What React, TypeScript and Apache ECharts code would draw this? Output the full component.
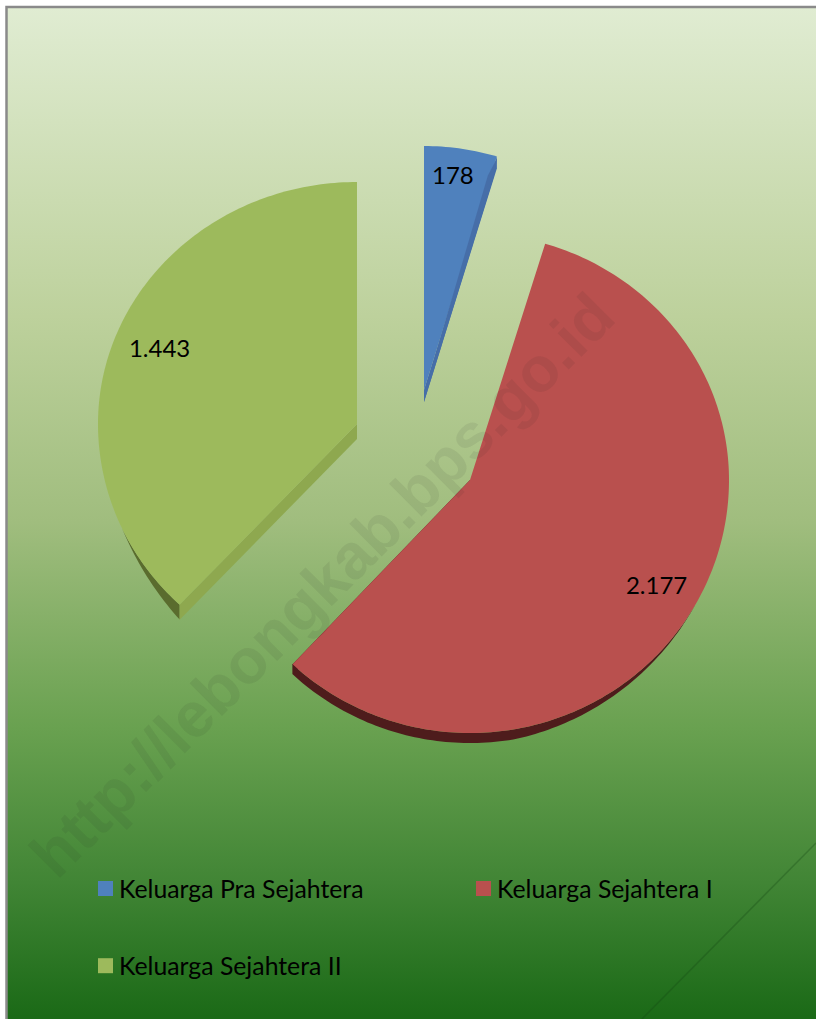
import React, { useEffect, useRef } from "react";
import * as echarts from "echarts";

const categories = ["Keluarga Pra Sejahtera", "Keluarga Sejahtera I", "Keluarga Sejahtera II"];
const values = [178, 2177, 1443];
const watermark = "http://lebongkab.bps.go.id";

const topColors = ["#4f81bd", "#b9504e", "#9dba5c"];
const wallColors = ["#4a6fa8", "#4e1c1c", "#5a6c2e"];
const cutWallColors = ["#466ea8", "#4e1c1c", "#8ea84f"];
const apexX = [424, 470, 357];
const apexY = [390, 480, 424];
const radiusX = [251, 259, 259];
const radiusTop = [244, 247, 242];
const radiusBottom = [250, 253, 248];
const depth = [12, 10, 15];
const wallZeroAngle = [100, 120, 245];
const wallFullAngle = [200, 170, 223];
const labelRatio = [0.88, 0.83, 0.82];
const labelDx = [-3.5, 0.5, 0];
const labelDy = [-3, -1, -3];

const FONT = "Lato";
const total = values.reduce((a, b) => a + b, 0);
const formatValue = (v: number) => String(v).replace(/\B(?=(\d{3})+$)/g, ".");

function edgePoint(i: number, deg: number, ratio = 1): number[] {
  const t = (deg * Math.PI) / 180;
  const c = Math.cos(t);
  const ry = c >= 0 ? radiusTop[i] : radiusBottom[i];
  return [apexX[i] + ratio * radiusX[i] * Math.sin(t), apexY[i] - ratio * ry * c];
}

function slicePoints(i: number, from: number, to: number): number[][] {
  const pts: number[][] = [[apexX[i], apexY[i]]];
  const n = Math.ceil(to - from);
  for (let k = 0; k <= n; k++) pts.push(edgePoint(i, from + ((to - from) * k) / n));
  return pts;
}

function wallPoints(i: number, from: number, to: number): number[][] {
  const n = Math.ceil(to - from);
  const upper: number[][] = [];
  const lower: number[][] = [];
  for (let k = 0; k <= n; k++) {
    const a = from + ((to - from) * k) / n;
    const p = edgePoint(i, a);
    const f = Math.min(1, Math.max(0, (a - wallZeroAngle[i]) / (wallFullAngle[i] - wallZeroAngle[i])));
    upper.push(p);
    lower.push([p[0], p[1] + depth[i] * f]);
  }
  return upper.concat(lower.reverse());
}

function makeSeries(i: number) {
  const before = values.slice(0, i).reduce((a, b) => a + b, 0);
  return {
    type: "custom",
    name: categories[i],
    coordinateSystem: "none",
    z: 3,
    itemStyle: { color: topColors[i] },
    data: [[values[i], before]],
    renderItem: (_p: any, api: any) => {
      const from = (api.value(1) / total) * 360;
      const to = ((api.value(1) + api.value(0)) / total) * 360;
      const mid = (from + to) / 2;
      const d = depth[i];
      const end = i === 2 ? edgePoint(i, from) : edgePoint(i, to);
      const labelPos = edgePoint(i, mid, labelRatio[i]);
      const children: any[] = [
        { type: "polygon", shape: { points: wallPoints(i, from, to) }, style: { fill: wallColors[i] } },
        {
          type: "polygon",
          shape: {
            points: [
              [apexX[i], apexY[i]],
              end,
              [end[0], end[1] + d],
              [apexX[i], apexY[i] + d],
            ],
          },
          style: { fill: cutWallColors[i] },
        },
        { type: "polygon", shape: { points: slicePoints(i, from, to) }, style: { fill: topColors[i] } },
      ];
      if (i === 0) {
        children.push({
          type: "polygon",
          shape: {
            points: [
              [end[0], end[1] + 2],
              [end[0] - 9, end[1] + 19],
              [apexX[i], apexY[i] + 4],
              [apexX[i], apexY[i] + d],
              [end[0] - 3, end[1] + 20],
            ],
          },
          style: { fill: cutWallColors[i] },
        });
      }
      children.push({
        type: "text",
        x: labelPos[0] + labelDx[i],
        y: labelPos[1] + labelDy[i],
        style: {
          text: formatValue(api.value(0)),
          fill: "#000",
          fontFamily: FONT,
          fontSize: 24,
          align: "center",
          verticalAlign: "middle",
        },
      });
      return { type: "group", children };
    },
  };
}

const legendBase = {
  orient: "vertical",
  icon: "rect",
  itemWidth: 15,
  itemHeight: 15,
  itemGap: 52.2,
  textStyle: { color: "#000", fontFamily: FONT, fontSize: 24.8, padding: [0, 0, 0, 1] },
  selectedMode: false,
  padding: 0,
};

export default function App() {
  const ref = useRef<HTMLDivElement>(null);
  useEffect(() => {
    document.body.style.margin = "0";
    const chart = echarts.init(ref.current!, null, { renderer: "svg" });
    chart.setOption({
      animation: false,
      backgroundColor: "#fff",
      legend: [
        { ...legendBase, left: 98, top: 876, data: [categories[0], categories[2]] },
        { ...legendBase, left: 476, top: 876, data: [categories[1]] },
      ],
      series: categories.map((_, i) => makeSeries(i)),
      graphic: [
        {
          type: "rect",
          z: 0,
          shape: { x: 6.5, y: 7, width: 830, height: 1030 },
          style: {
            stroke: "#8a8a8a",
            lineWidth: 2.5,
            fill: {
              type: "linear",
              x: 0,
              y: 0,
              x2: 0,
              y2: 1,
              colorStops: [
                { offset: 0, color: "#e0ecd2" },
                { offset: 0.3, color: "#bdd19c" },
                { offset: 0.5, color: "#a0bd7e" },
                { offset: 0.7, color: "#69a150" },
                { offset: 0.85, color: "#418535" },
                { offset: 0.98, color: "#1b6a17" },
                { offset: 1, color: "#1b6a17" },
              ],
            },
          },
        },
        {
          type: "line",
          z: 1,
          shape: { x1: 816, y1: 843, x2: 642, y2: 1019 },
          style: { stroke: "rgba(20,70,20,0.3)", lineWidth: 1.5 },
        },
        {
          type: "text",
          z: 10,
          x: 322,
          y: 585,
          rotation: Math.PI / 4,
          style: {
            text: watermark,
            fill: "rgba(40,40,40,0.08)",
            fontFamily: "Liberation Sans",
            fontWeight: "bold",
            fontSize: 63.5,
            align: "center",
            verticalAlign: "middle",
          },
        },
      ],
    });
    return () => chart.dispose();
  }, []);
  return <div ref={ref} style={{ position: "fixed", left: 0, top: 0, width: 816, height: 1019 }} />;
}
